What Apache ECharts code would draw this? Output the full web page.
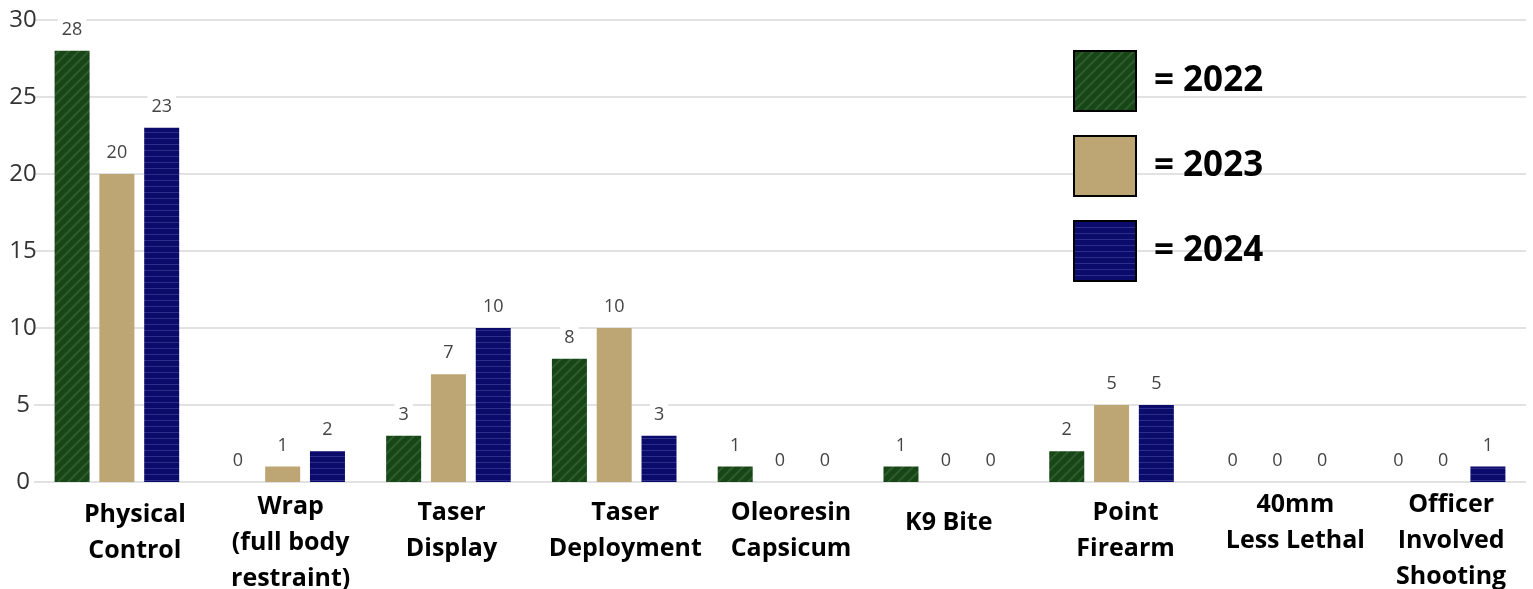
<!DOCTYPE html>
<html>
<head>
<meta charset="utf-8">
<script src="https://cdn.jsdelivr.net/npm/echarts@6/dist/echarts.min.js"></script>
<style>
html,body{margin:0;padding:0;background:#fff;}
#chart{width:1533px;height:589px;}
</style>
</head>
<body>
<div id="chart"></div>
<script>
const categories = ['Physical\nControl', 'Wrap\n(full body\nrestraint)', 'Taser\nDisplay', 'Taser\nDeployment', 'Oleoresin\nCapsicum', 'K9 Bite', 'Point\nFirearm', '40mm\nLess Lethal', 'Officer\nInvolved\nShooting'];
const years = ['2022', '2023', '2024'];
const values2022 = [28, 0, 3, 8, 1, 1, 2, 0, 0];
const values2023 = [20, 1, 7, 10, 0, 0, 5, 0, 0];
const values2024 = [23, 2, 10, 3, 0, 0, 5, 0, 1];
const yTicks = [0, 5, 10, 15, 20, 25, 30];

// label layout tweaks (kept apart from data)
const labelShiftX = [18, 8, 3, 11, 11, 3, 14, 18, 8];
const labelShiftY = [10, 2, 8, 8, 8, 18, 8, 0, 0];

function makePattern(kind) {
  const c = document.createElement('canvas');
  if (kind === 'green') {
    c.width = 10; c.height = 10;
    const g = c.getContext('2d');
    g.fillStyle = '#174717';
    g.fillRect(0, 0, 10, 10);
    g.strokeStyle = '#2e5c2e';
    g.lineWidth = 2;
    g.beginPath();
    g.moveTo(-2, 12); g.lineTo(12, -2);
    g.moveTo(-7, 7); g.lineTo(7, -7);
    g.moveTo(3, 17); g.lineTo(17, 3);
    g.stroke();
  } else {
    c.width = 6; c.height = 6;
    const g = c.getContext('2d');
    g.fillStyle = '#0b0b6c';
    g.fillRect(0, 0, 6, 6);
    g.fillStyle = '#2d2d8a';
    g.fillRect(0, 0, 6, 1);
  }
  return { image: c, repeat: 'repeat' };
}

const colors = [makePattern('green'), '#bda673', makePattern('blue')];
const seriesValues = [values2022, values2023, values2024];

const chart = echarts.init(document.getElementById('chart'), null, { renderer: 'canvas' });

const labelStyle = {
  show: true,
  position: 'top',
  distance: 10,
  fontFamily: 'Open Sans',
  fontSize: 18,
  color: '#444',
  backgroundColor: '#fff',
  padding: [2, 4]
};

chart.setOption({
  animation: false,
  backgroundColor: '#fff',
  grid: { left: 34, right: 7, top: 20, bottom: 107, containLabel: false, outerBoundsMode: 'none' },
  legend: {
    orient: 'vertical',
    left: 1073,
    top: 50,
    padding: 0,
    itemWidth: 62,
    itemHeight: 60,
    itemGap: 23,
    icon: 'rect',
    data: years,
    itemStyle: { borderColor: '#000', borderWidth: 2 },
    formatter: function (n) { return '= ' + n; },
    textStyle: { fontFamily: 'Open Sans', fontWeight: 'bold', fontSize: 35, color: '#000', padding: [0, 0, 0, 13] }
  },
  xAxis: {
    type: 'category',
    data: categories.map(function (c, i) {
      return {
        value: c,
        textStyle: { padding: [labelShiftY[i], 0, 0, labelShiftX[i] * 2] }
      };
    }),
    axisLine: { show: false },
    axisTick: { show: false },
    axisLabel: {
      interval: 0,
      margin: 5,
      fontFamily: 'Open Sans',
      fontWeight: 'bold',
      fontSize: 25,
      lineHeight: 36,
      color: '#000'
    }
  },
  yAxis: {
    type: 'value',
    min: yTicks[0],
    max: yTicks[yTicks.length - 1],
    interval: yTicks[1] - yTicks[0],
    axisLine: { show: false },
    axisTick: { show: false },
    splitLine: { lineStyle: { color: '#e2e2e2', width: 2 } },
    axisLabel: {
      margin: 11,
      align: 'center',
      fontFamily: 'Open Sans',
      fontSize: 24,
      color: '#333'
    }
  },
  series: years.map(function (y, i) {
    return {
      name: y,
      type: 'bar',
      data: seriesValues[i],
      barWidth: 35,
      barGap: '28%',
      itemStyle: { color: colors[i] },
      label: labelStyle
    };
  })
});
</script>
</body>
</html>
